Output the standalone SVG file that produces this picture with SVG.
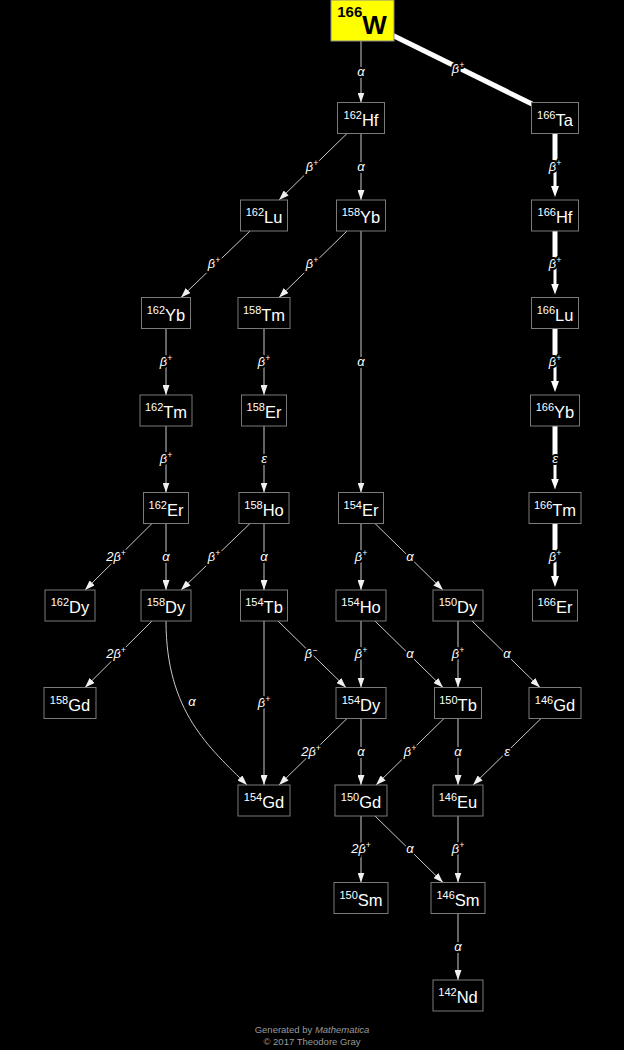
<svg xmlns="http://www.w3.org/2000/svg" width="624" height="1050" viewBox="0 0 624 1050">
<style>
.bg{fill:#000}
.n rect{fill:#000;stroke:#7a7a7a;stroke-width:1}
.n text{font-family:"Liberation Sans",Arial,sans-serif;fill:#fff;text-anchor:middle}
.m{font-size:11px}
.s{font-size:16.5px}
.e{stroke:#c8c8c8;stroke-width:1;fill:none}
.t{stroke:#fff;fill:none}
.l{font-family:"Liberation Sans",Arial,sans-serif;font-style:italic;font-size:13px;fill:#fff;text-anchor:middle;stroke:#000;stroke-width:4;paint-order:stroke;stroke-linejoin:round}
.p{font-size:8.5px}
.f{font-family:"Liberation Sans",Arial,sans-serif;font-size:9.5px;fill:#999;text-anchor:middle}
</style>
<defs>
<marker id="a" viewBox="0 0 10 7" refX="10" refY="3.5" markerWidth="10" markerHeight="7" orient="auto" markerUnits="userSpaceOnUse"><path d="M0,0 L10,3.5 L0,7 z" fill="#f0f0f0"/></marker>
<marker id="b" viewBox="0 0 11 8" refX="3" refY="4" markerWidth="11" markerHeight="8" orient="auto" markerUnits="userSpaceOnUse"><path d="M0,0 L11,4 L0,8 z" fill="#fff"/></marker>
</defs>
<rect class="bg" x="0" y="0" width="624" height="1050"/>

<g id="connectors">
<line class="e" x1="361" y1="41" x2="361" y2="102.5" marker-end="url(#a)"/>
<line class="e" x1="361" y1="133.5" x2="361" y2="200" marker-end="url(#a)"/>
<line class="e" x1="361" y1="231" x2="361" y2="492.5" marker-end="url(#a)"/>
<line class="e" x1="166" y1="328.5" x2="166" y2="395" marker-end="url(#a)"/>
<line class="e" x1="264" y1="328.5" x2="264" y2="395" marker-end="url(#a)"/>
<line class="e" x1="166" y1="426" x2="166" y2="492.5" marker-end="url(#a)"/>
<line class="e" x1="264" y1="426" x2="264" y2="492.5" marker-end="url(#a)"/>
<line class="e" x1="166" y1="523.5" x2="166" y2="590" marker-end="url(#a)"/>
<line class="e" x1="264" y1="523.5" x2="264" y2="590" marker-end="url(#a)"/>
<line class="e" x1="361" y1="523.5" x2="361" y2="590" marker-end="url(#a)"/>
<line class="e" x1="264" y1="621" x2="264" y2="785" marker-end="url(#a)"/>
<line class="e" x1="361" y1="621" x2="361" y2="687.5" marker-end="url(#a)"/>
<line class="e" x1="458" y1="621" x2="458" y2="687.5" marker-end="url(#a)"/>
<line class="e" x1="361" y1="718.5" x2="361" y2="785" marker-end="url(#a)"/>
<line class="e" x1="458" y1="718.5" x2="458" y2="785" marker-end="url(#a)"/>
<line class="e" x1="361" y1="816" x2="361" y2="882.5" marker-end="url(#a)"/>
<line class="e" x1="458" y1="816" x2="458" y2="882.5" marker-end="url(#a)"/>
<line class="e" x1="458" y1="913.5" x2="458" y2="980" marker-end="url(#a)"/>
<line class="e" x1="347" y1="133.5" x2="279" y2="200" marker-end="url(#a)"/>
<line class="e" x1="250" y1="231" x2="181" y2="297.5" marker-end="url(#a)"/>
<line class="e" x1="347" y1="231" x2="279" y2="297.5" marker-end="url(#a)"/>
<line class="e" x1="152" y1="523.5" x2="85" y2="590" marker-end="url(#a)"/>
<line class="e" x1="250" y1="523.5" x2="181" y2="590" marker-end="url(#a)"/>
<line class="e" x1="375" y1="523.5" x2="443" y2="590" marker-end="url(#a)"/>
<line class="e" x1="152" y1="621" x2="85" y2="687.5" marker-end="url(#a)"/>
<line class="e" x1="278" y1="621" x2="346" y2="687.5" marker-end="url(#a)"/>
<line class="e" x1="375" y1="621" x2="443" y2="687.5" marker-end="url(#a)"/>
<line class="e" x1="472" y1="621" x2="540" y2="687.5" marker-end="url(#a)"/>
<line class="e" x1="347" y1="718.5" x2="279" y2="785" marker-end="url(#a)"/>
<line class="e" x1="444" y1="718.5" x2="376" y2="785" marker-end="url(#a)"/>
<line class="e" x1="541" y1="718.5" x2="473" y2="785" marker-end="url(#a)"/>
<line class="e" x1="375" y1="816" x2="443" y2="882.5" marker-end="url(#a)"/>
<path class="e" d="M166,621 C166,712 210,748 247,785" marker-end="url(#a)"/>
<line class="t" stroke-width="5" x1="392" y1="35" x2="532" y2="104"/>
<line class="t" stroke-width="5" x1="555" y1="133.5" x2="555" y2="166"/>
<line class="t" stroke-width="3" x1="555" y1="166" x2="555" y2="189" marker-end="url(#b)"/>
<line class="t" stroke-width="5" x1="555" y1="231" x2="555" y2="264"/>
<line class="t" stroke-width="3" x1="555" y1="264" x2="555" y2="286.5" marker-end="url(#b)"/>
<line class="t" stroke-width="5" x1="555" y1="328.5" x2="555" y2="361"/>
<line class="t" stroke-width="3" x1="555" y1="361" x2="555" y2="384" marker-end="url(#b)"/>
<line class="t" stroke-width="5" x1="555" y1="426" x2="555" y2="459"/>
<line class="t" stroke-width="3" x1="555" y1="459" x2="555" y2="481.5" marker-end="url(#b)"/>
<line class="t" stroke-width="5" x1="555" y1="523.5" x2="555" y2="556"/>
<line class="t" stroke-width="3" x1="555" y1="556" x2="555" y2="579" marker-end="url(#b)"/>
<text class="l" x="361" y="76">α</text>
<text class="l" x="458" y="73">β<tspan class="p" dy="-5">+</tspan></text>
<text class="l" x="312" y="171">β<tspan class="p" dy="-5">+</tspan></text>
<text class="l" x="361" y="171">α</text>
<text class="l" x="555" y="171">β<tspan class="p" dy="-5">+</tspan></text>
<text class="l" x="214" y="268">β<tspan class="p" dy="-5">+</tspan></text>
<text class="l" x="312" y="268">β<tspan class="p" dy="-5">+</tspan></text>
<text class="l" x="555" y="268">β<tspan class="p" dy="-5">+</tspan></text>
<text class="l" x="361" y="366">α</text>
<text class="l" x="166" y="366">β<tspan class="p" dy="-5">+</tspan></text>
<text class="l" x="264" y="366">β<tspan class="p" dy="-5">+</tspan></text>
<text class="l" x="555" y="366">β<tspan class="p" dy="-5">+</tspan></text>
<text class="l" x="166" y="463">β<tspan class="p" dy="-5">+</tspan></text>
<text class="l" x="264" y="463">ε</text>
<text class="l" x="555" y="463">ε</text>
<text class="l" x="116" y="561">2β<tspan class="p" dy="-5">+</tspan></text>
<text class="l" x="166" y="561">α</text>
<text class="l" x="214" y="561">β<tspan class="p" dy="-5">+</tspan></text>
<text class="l" x="264" y="561">α</text>
<text class="l" x="361" y="561">β<tspan class="p" dy="-5">+</tspan></text>
<text class="l" x="410" y="561">α</text>
<text class="l" x="555" y="561">β<tspan class="p" dy="-5">+</tspan></text>
<text class="l" x="116" y="658">2β<tspan class="p" dy="-5">+</tspan></text>
<text class="l" x="311" y="658">β<tspan class="p" dy="-5">−</tspan></text>
<text class="l" x="361" y="658">β<tspan class="p" dy="-5">+</tspan></text>
<text class="l" x="410" y="658">α</text>
<text class="l" x="458" y="658">β<tspan class="p" dy="-5">+</tspan></text>
<text class="l" x="507" y="658">α</text>
<text class="l" x="192" y="706">α</text>
<text class="l" x="264" y="707">β<tspan class="p" dy="-5">+</tspan></text>
<text class="l" x="311" y="756">2β<tspan class="p" dy="-5">+</tspan></text>
<text class="l" x="361" y="756">α</text>
<text class="l" x="410" y="756">β<tspan class="p" dy="-5">+</tspan></text>
<text class="l" x="458" y="756">α</text>
<text class="l" x="507" y="756">ε</text>
<text class="l" x="361" y="853">2β<tspan class="p" dy="-5">+</tspan></text>
<text class="l" x="410" y="853">α</text>
<text class="l" x="458" y="853">β<tspan class="p" dy="-5">+</tspan></text>
<text class="l" x="458" y="951">α</text>
</g>

<g id="W166"><rect x="331" y="0" width="63" height="41" fill="#ffff00" stroke="#888" stroke-width="1"/><text x="362" y="17" font-family="Liberation Sans,Arial,sans-serif" font-weight="bold" fill="#000" text-anchor="middle"><tspan font-size="15">166</tspan><tspan font-size="26" dy="17">W</tspan></text></g>

<g id="Hf162" class="n"><rect x="337.5" y="102.5" width="47" height="31"/><text x="361" y="118.5"><tspan class="m">162</tspan><tspan class="s" dy="7">Hf</tspan></text></g>
<g id="Ta166" class="n"><rect x="531.5" y="102.5" width="47" height="31"/><text x="555" y="118.5"><tspan class="m">166</tspan><tspan class="s" dy="7">Ta</tspan></text></g>
<g id="Lu162" class="n"><rect x="240.5" y="200" width="47" height="31"/><text x="264" y="216"><tspan class="m">162</tspan><tspan class="s" dy="7">Lu</tspan></text></g>
<g id="Yb158" class="n"><rect x="336.5" y="200" width="49" height="31"/><text x="361" y="216"><tspan class="m">158</tspan><tspan class="s" dy="7">Yb</tspan></text></g>
<g id="Hf166" class="n"><rect x="531.5" y="200" width="47" height="31"/><text x="555" y="216"><tspan class="m">166</tspan><tspan class="s" dy="7">Hf</tspan></text></g>
<g id="Yb162" class="n"><rect x="141.5" y="297.5" width="49" height="31"/><text x="166" y="313.5"><tspan class="m">162</tspan><tspan class="s" dy="7">Yb</tspan></text></g>
<g id="Tm158" class="n"><rect x="238" y="297.5" width="52" height="31"/><text x="264" y="313.5"><tspan class="m">158</tspan><tspan class="s" dy="7">Tm</tspan></text></g>
<g id="Lu166" class="n"><rect x="531.5" y="297.5" width="47" height="31"/><text x="555" y="313.5"><tspan class="m">166</tspan><tspan class="s" dy="7">Lu</tspan></text></g>
<g id="Tm162" class="n"><rect x="140" y="395" width="52" height="31"/><text x="166" y="411"><tspan class="m">162</tspan><tspan class="s" dy="7">Tm</tspan></text></g>
<g id="Er158" class="n"><rect x="241.5" y="395" width="45" height="31"/><text x="264" y="411"><tspan class="m">158</tspan><tspan class="s" dy="7">Er</tspan></text></g>
<g id="Yb166" class="n"><rect x="530.5" y="395" width="49" height="31"/><text x="555" y="411"><tspan class="m">166</tspan><tspan class="s" dy="7">Yb</tspan></text></g>
<g id="Er162" class="n"><rect x="143.5" y="492.5" width="45" height="31"/><text x="166" y="508.5"><tspan class="m">162</tspan><tspan class="s" dy="7">Er</tspan></text></g>
<g id="Ho158" class="n"><rect x="239" y="492.5" width="50" height="31"/><text x="264" y="508.5"><tspan class="m">158</tspan><tspan class="s" dy="7">Ho</tspan></text></g>
<g id="Er154" class="n"><rect x="338.5" y="492.5" width="45" height="31"/><text x="361" y="508.5"><tspan class="m">154</tspan><tspan class="s" dy="7">Er</tspan></text></g>
<g id="Tm166" class="n"><rect x="529" y="492.5" width="52" height="31"/><text x="555" y="508.5"><tspan class="m">166</tspan><tspan class="s" dy="7">Tm</tspan></text></g>
<g id="Dy162" class="n"><rect x="45" y="590" width="50" height="31"/><text x="70" y="606"><tspan class="m">162</tspan><tspan class="s" dy="7">Dy</tspan></text></g>
<g id="Dy158" class="n"><rect x="141" y="590" width="50" height="31"/><text x="166" y="606"><tspan class="m">158</tspan><tspan class="s" dy="7">Dy</tspan></text></g>
<g id="Tb154" class="n"><rect x="240.5" y="590" width="47" height="31"/><text x="264" y="606"><tspan class="m">154</tspan><tspan class="s" dy="7">Tb</tspan></text></g>
<g id="Ho154" class="n"><rect x="336" y="590" width="50" height="31"/><text x="361" y="606"><tspan class="m">154</tspan><tspan class="s" dy="7">Ho</tspan></text></g>
<g id="Dy150" class="n"><rect x="433" y="590" width="50" height="31"/><text x="458" y="606"><tspan class="m">150</tspan><tspan class="s" dy="7">Dy</tspan></text></g>
<g id="Er166" class="n"><rect x="532.5" y="590" width="45" height="31"/><text x="555" y="606"><tspan class="m">166</tspan><tspan class="s" dy="7">Er</tspan></text></g>
<g id="Gd158" class="n"><rect x="44" y="687.5" width="52" height="31"/><text x="70" y="703.5"><tspan class="m">158</tspan><tspan class="s" dy="7">Gd</tspan></text></g>
<g id="Dy154" class="n"><rect x="336" y="687.5" width="50" height="31"/><text x="361" y="703.5"><tspan class="m">154</tspan><tspan class="s" dy="7">Dy</tspan></text></g>
<g id="Tb150" class="n"><rect x="434.5" y="687.5" width="47" height="31"/><text x="458" y="703.5"><tspan class="m">150</tspan><tspan class="s" dy="7">Tb</tspan></text></g>
<g id="Gd146" class="n"><rect x="529" y="687.5" width="52" height="31"/><text x="555" y="703.5"><tspan class="m">146</tspan><tspan class="s" dy="7">Gd</tspan></text></g>
<g id="Gd154" class="n"><rect x="238" y="785" width="52" height="31"/><text x="264" y="801"><tspan class="m">154</tspan><tspan class="s" dy="7">Gd</tspan></text></g>
<g id="Gd150" class="n"><rect x="335" y="785" width="52" height="31"/><text x="361" y="801"><tspan class="m">150</tspan><tspan class="s" dy="7">Gd</tspan></text></g>
<g id="Eu146" class="n"><rect x="433" y="785" width="50" height="31"/><text x="458" y="801"><tspan class="m">146</tspan><tspan class="s" dy="7">Eu</tspan></text></g>
<g id="Sm150" class="n"><rect x="334" y="882.5" width="54" height="31"/><text x="361" y="898.5"><tspan class="m">150</tspan><tspan class="s" dy="7">Sm</tspan></text></g>
<g id="Sm146" class="n"><rect x="431" y="882.5" width="54" height="31"/><text x="458" y="898.5"><tspan class="m">146</tspan><tspan class="s" dy="7">Sm</tspan></text></g>
<g id="Nd142" class="n"><rect x="433" y="980" width="50" height="31"/><text x="458" y="996"><tspan class="m">142</tspan><tspan class="s" dy="7">Nd</tspan></text></g>

<g id="footer">
<text class="f" x="312" y="1033">Generated by <tspan font-style="italic">Mathematica</tspan></text>
<text class="f" x="312" y="1045">© 2017 Theodore Gray</text>
</g>
</svg>
